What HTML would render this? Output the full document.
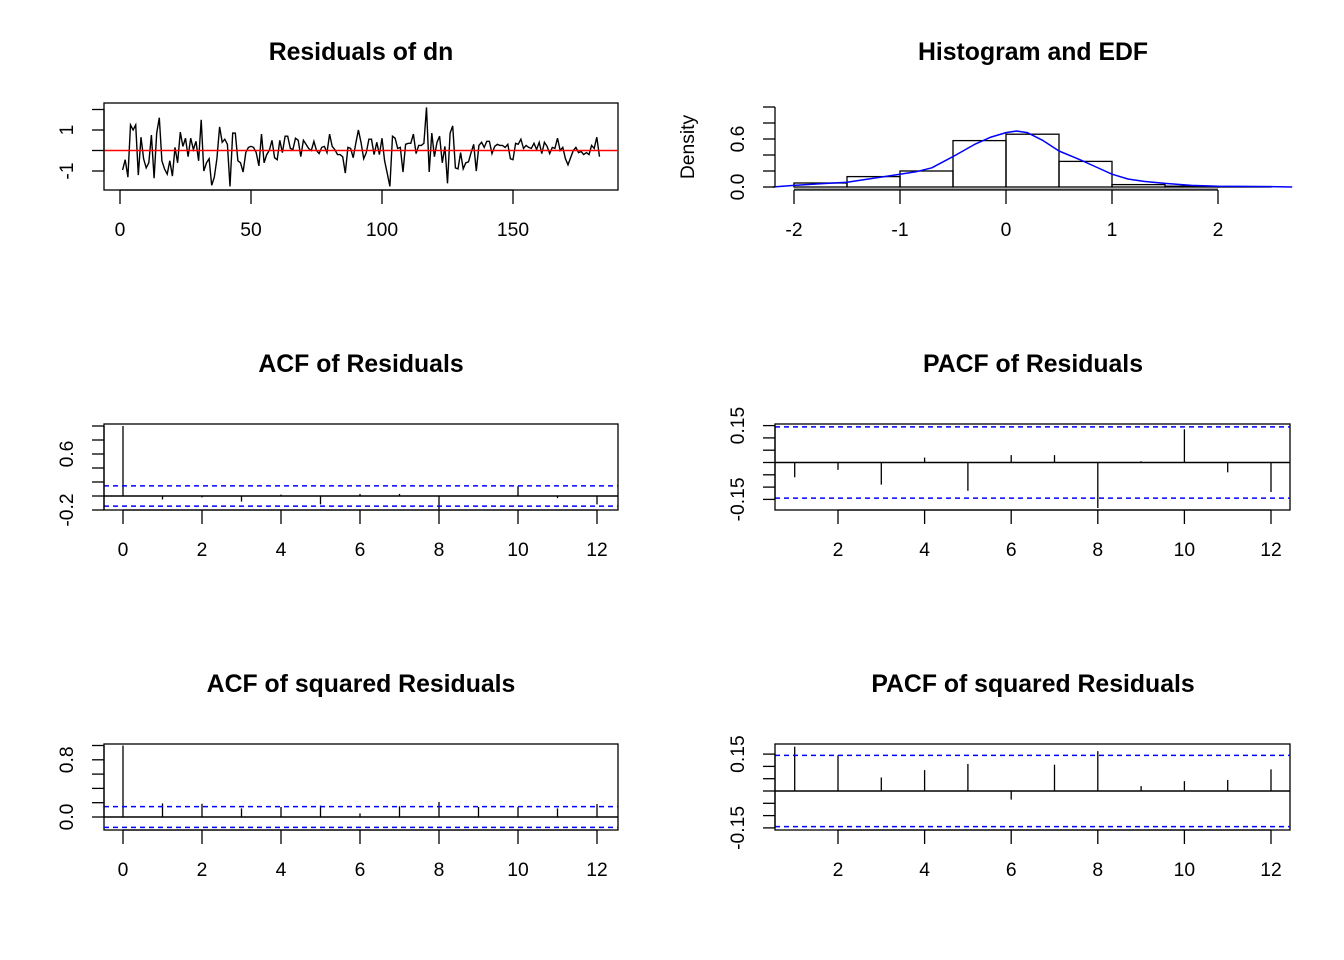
<!DOCTYPE html>
<html><head><meta charset="utf-8"><style>
body{margin:0;background:#fff}
svg{display:block;font-family:"Liberation Sans",sans-serif}
.t{font-weight:bold;font-size:24.8px;text-anchor:middle}
.l{font-size:19.3px;text-anchor:middle}
</style></head><body>
<svg id="c" width="1344" height="960" xmlns="http://www.w3.org/2000/svg"></svg>
<script>
const residuals=[-0.95,-0.45,-1.3,1.25,1.0,1.25,-1.2,0.65,-0.4,-0.85,
-0.6,0.75,-1.35,0.85,1.6,-0.5,-0.9,-1.15,-0.5,-1.25,
0.15,-0.6,0.9,0.2,0.6,-0.3,0.6,0.05,0.45,-0.5,
1.5,-1.0,-0.6,-0.4,-1.7,-1.3,-0.4,1.15,0.4,0.55,
0.3,-1.75,0.85,0.85,-0.5,-0.6,-1.05,-0.1,0.15,0.2,
0.15,-0.1,-0.75,0.8,-0.6,-0.2,0.0,0.5,-0.35,-0.45,
0.5,-0.1,0.7,0.7,0.1,0.05,0.6,0.5,-0.3,0.5,
0.3,0.1,0.0,0.45,0.0,-0.15,0.15,0.2,-0.1,0.8,
0.2,0.05,-0.2,-0.2,-0.3,-1.1,0.15,0.1,-0.35,0.35,
1.0,0.4,-0.4,-0.1,0.55,0.55,-0.2,0.4,-0.2,0.6,
-0.5,-1.1,-1.75,0.7,0.6,0.1,0.15,-1.05,0.3,0.35,
0.35,0.8,-0.15,0.25,0.25,0.35,2.1,-1.05,0.85,-0.3,
0.4,0.7,-0.6,0.2,-1.6,0.85,1.2,-0.85,-0.9,-0.1,
-0.9,-0.6,-0.55,-0.1,0.3,-1.0,0.25,0.4,0.15,0.45,
0.45,-0.15,0.2,0.3,0.25,0.25,0.15,0.3,-0.4,-0.45,
0.35,0.3,0.55,0.1,0.25,0.15,0.1,0.35,0.05,0.4,
-0.15,0.4,0.2,-0.15,0.15,0.1,0.6,0.0,0.15,-0.4,
-0.7,-0.35,0.0,0.15,-0.1,-0.05,-0.2,-0.1,-0.2,0.25,
0.1,0.65,-0.3];
const histBreaks=[-2,-1.5,-1,-0.5,0,0.5,1,1.5,2,2.5];
const histDensity=[0.05,0.13,0.2,0.58,0.66,0.32,0.03,0.01,0.005];
const densX=[-2.2,-2,-1.75,-1.5,-1.25,-1,-0.85,-0.7,-0.5,-0.3,-0.15,0,0.1,0.2,0.35,0.5,0.7,0.85,1,1.15,1.3,1.5,1.75,2,2.5,2.7];
const densY=[0,0.02,0.04,0.06,0.11,0.16,0.19,0.24,0.38,0.53,0.62,0.68,0.7,0.68,0.58,0.45,0.34,0.25,0.16,0.1,0.07,0.045,0.02,0.01,0.005,0];
const acfLags=[0,1,2,3,4,5,6,7,8,9,10,11,12];
const acfVals=[1,-0.05,-0.02,-0.08,0.02,-0.12,0.03,0.03,-0.19,0.005,0.14,-0.03,-0.12];
const pacfLags=[1,2,3,4,5,6,7,8,9,10,11,12];
const pacfVals=[-0.06,-0.03,-0.09,0.02,-0.115,0.03,0.03,-0.185,0.005,0.135,-0.04,-0.12];
const acfSqVals=[1,0.19,0.185,0.12,0.14,0.16,0.05,0.15,0.21,0.14,0.14,0.12,0.18];
const pacfSqVals=[0.18,0.145,0.055,0.085,0.11,-0.035,0.107,0.162,0.02,0.04,0.045,0.088];
const ciAcf=0.145;

const S=document.getElementById('c');const NS='http://www.w3.org/2000/svg';
function el(tag,a,txt){const e=document.createElementNS(NS,tag);for(const k in a)e.setAttribute(k,a[k]);if(txt!==undefined)e.textContent=txt;S.appendChild(e);return e;}
function line(x1,y1,x2,y2,st,w,dash){return el('line',{x1,y1,x2,y2,stroke:st||'#000','stroke-width':w||1.3,'stroke-dasharray':dash||'none'});}
function lin(d0,d1,r0,r1){return v=>r0+(v-d0)*(r1-r0)/(d1-d0);}
function title(x,y,s,n){const t=el('text',{x,y,class:'t'},s);}
function xAxis(sx,ticks,y0,labY,name){line(sx(ticks[0]),y0,sx(ticks[ticks.length-1]),y0);
 ticks.forEach(v=>{line(sx(v),y0,sx(v),y0+14);const t=el('text',{x:sx(v),y:labY,class:'l'},String(v));});}
function yAxis(sy,ticks,labels,x0,name){line(x0,sy(ticks[0]),x0,sy(ticks[ticks.length-1]));
 ticks.forEach(v=>line(x0,sy(v),x0-12,sy(v)));
 labels.forEach(v=>{const y=sy(v[0]);const t=el('text',{x:x0-31,y:y,class:'l',transform:`rotate(-90 ${x0-31} ${y})`},v[1]);});}
function box(x0,y0,x1,y1,n){const r=el('rect',{x:x0,y:y0,width:x1-x0,height:y1-y0,fill:'none',stroke:'#000','stroke-width':1.3});}

// Panel 1 residuals
{title(361,60,'Residuals of dn','residuals-title');
const sx=lin(0,50,120,251),sy=lin(0,1,150.5,130);
box(104,103,618,190,'residuals-plot-box');
let p=residuals.map((v,i)=>`${sx(i+1).toFixed(1)},${sy(v).toFixed(1)}`).join(' ');
const pl=el('polyline',{points:p,fill:'none',stroke:'#000','stroke-width':1.4});

const z=line(104,sy(0),618,sy(0),'#f00',1.6);
xAxis(sx,[0,50,100,150],190,236,'residuals-x');
yAxis(sy,[-1,0,1,2],[[-1,'-1'],[1,'1']],104,'residuals-y');}

// Panel 2 histogram
{title(1033,60,'Histogram and EDF','histogram-title');
const sx=lin(0,1,1006,1112),sy=lin(0,0.2,187,171);
histDensity.forEach((d,i)=>{const r=el('rect',{x:sx(histBreaks[i]),y:sy(d),width:sx(histBreaks[i+1])-sx(histBreaks[i]),height:sy(0)-sy(d),fill:'none',stroke:'#000','stroke-width':1.3});});
line(sx(-2),189,sx(2),189,'#888',1.6);
let p=densX.map((v,i)=>`${sx(v).toFixed(1)},${sy(densY[i]).toFixed(1)}`).join(' ');
const pl=el('polyline',{points:p,fill:'none',stroke:'#00f','stroke-width':1.5,'stroke-linejoin':'round'});

xAxis(sx,[-2,-1,0,1,2],190,236,'histogram-x');
yAxis(sy,[0,0.2,0.4,0.6,0.8,1.0],[[0,'0.0'],[0.6,'0.6']],775,'histogram-y');
const d=el('text',{x:694,y:147,class:'l',transform:'rotate(-90 694 147)'},'Density');}

function corrPanel(o){title(o.cx,o.ty,o.title,o.name+'-title');
 const sx=lin(o.lx[0],o.lx[1],o.px[0],o.px[1]),sy=lin(0,o.yu,o.y0,o.y0-o.ppu);
 box(o.bx0,o.by0,o.bx1,o.by1,o.name+'-plot-box');
 o.lags.forEach((l,i)=>{const b=line(sx(l),sy(0),sx(l),sy(o.vals[i]),'#000',1.3);});
 line(o.bx0,sy(0),o.bx1,sy(0),'#000',1.4);
 [ciAcf,-ciAcf].forEach(c=>{const b=line(o.bx0,sy(c),o.bx1,sy(c),'#00f',1.5,'5,4');});
 xAxis(sx,o.xt,o.by1,o.by1+46,o.name+'-x');
 yAxis(sy,o.yt,o.yl,o.bx0,o.name+'-y');}

corrPanel({title:'ACF of Residuals',name:'acf',cx:361,ty:372,lx:[0,2],px:[123,202],y0:496,yu:1,ppu:70,bx0:104,by0:424,bx1:618,by1:510,lags:acfLags,vals:acfVals,xt:[0,2,4,6,8,10,12],yt:[-0.2,0,0.2,0.4,0.6,0.8,1.0],yl:[[-0.2,'-0.2'],[0.6,'0.6']]});
corrPanel({title:'PACF of Residuals',name:'pacf',cx:1033,ty:372,lx:[2,12],px:[838,1271],y0:462.5,yu:1,ppu:246,bx0:775,by0:424,bx1:1290,by1:510,lags:pacfLags,vals:pacfVals,xt:[2,4,6,8,10,12],yt:[-0.15,-0.1,-0.05,0,0.05,0.1,0.15],yl:[[-0.15,'-0.15'],[0.15,'0.15']]});
corrPanel({title:'ACF of squared Residuals',name:'acf-squared',cx:361,ty:692,lx:[0,2],px:[123,202],y0:817,yu:1,ppu:71.5,bx0:104,by0:744,bx1:618,by1:830,lags:acfLags,vals:acfSqVals,xt:[0,2,4,6,8,10,12],yt:[0,0.2,0.4,0.6,0.8,1.0],yl:[[0,'0.0'],[0.8,'0.8']]});
corrPanel({title:'PACF of squared Residuals',name:'pacf-squared',cx:1033,ty:692,lx:[2,12],px:[838,1271],y0:791,yu:1,ppu:246,bx0:775,by0:744,bx1:1290,by1:830,lags:pacfLags,vals:pacfSqVals,xt:[2,4,6,8,10,12],yt:[-0.15,-0.1,-0.05,0,0.05,0.1,0.15],yl:[[-0.15,'-0.15'],[0.15,'0.15']]});
</script>
</body></html>
